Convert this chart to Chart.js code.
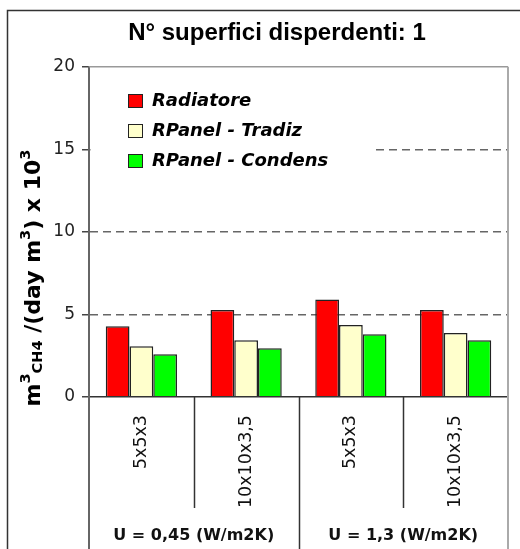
<!DOCTYPE html>
<html><head><meta charset="utf-8">
<script src="https://cdn.jsdelivr.net/npm/chart.js@4.4.0/dist/chart.umd.min.js"></script>
<style>html,body{margin:0;padding:0;background:#fff;} #wrap{width:520px;height:549px;position:relative;}</style>
</head><body><div id="wrap"><canvas id="c"></canvas></div>
<script>
const titleText = 'N° superfici disperdenti: 1';
const categories = ['5x5x3', '10x10x3,5', '5x5x3', '10x10x3,5'];
const groupLabels = ['U = 0,45 (W/m2K)', 'U = 1,3 (W/m2K)'];
const seriesNames = ['Radiatore', 'RPanel - Tradiz', 'RPanel - Condens'];
const radiatore = [4.28, 5.27, 5.90, 5.27];
const rpanelTradiz = [3.07, 3.43, 4.36, 3.88];
const rpanelCondens = [2.59, 2.95, 3.80, 3.43];
const yTicks = [0, 5, 10, 15, 20];
const yTitleParts = [['m', 'main'], ['3', 'sup'], ['CH4', 'sub'], [' /(day m', 'main'], ['3', 'sup'], [') x 10', 'main'], ['3', 'sup']];
const seriesColors = ['#ff0000', '#ffffcc', '#00ff00'];

const deco = {
  id: 'deco',
  afterDraw(chart) {
    const {ctx, chartArea: a, scales: {x}} = chart;
    const H = chart.height, W = chart.width;
    ctx.save();
    // outer frame
    ctx.strokeStyle = '#333'; ctx.lineWidth = 1.5;
    ctx.beginPath(); ctx.moveTo(7.5, H); ctx.lineTo(7.5, 10.5); ctx.lineTo(W, 10.5); ctx.stroke();
    // plot top & right border
    ctx.strokeStyle = '#999'; ctx.lineWidth = 1.5;
    ctx.beginPath(); ctx.moveTo(a.left, a.top); ctx.lineTo(a.right, a.top); ctx.stroke();
    ctx.strokeStyle = '#aaa'; ctx.lineWidth = 2;
    ctx.beginPath(); ctx.moveTo(a.right, a.top); ctx.lineTo(a.right, H); ctx.stroke();
    // left line extension below axis
    ctx.strokeStyle = '#666'; ctx.lineWidth = 2;
    ctx.beginPath(); ctx.moveTo(a.left, a.bottom); ctx.lineTo(a.left, H); ctx.stroke();
    // category separators
    ctx.strokeStyle = '#333'; ctx.lineWidth = 1.5;
    for (let i = 1; i < categories.length; i++) {
      const px = Math.round(x.getPixelForValue(i - 0.5)) + 0.5;
      const isGroup = i % 2 === 0;
      ctx.beginPath(); ctx.moveTo(px, a.bottom); ctx.lineTo(px, isGroup ? H : a.bottom + 111); ctx.stroke();
    }
    // group labels
    ctx.fillStyle = '#111'; ctx.font = 'bold 16px "DejaVu Sans"';
    ctx.textAlign = 'center'; ctx.textBaseline = 'middle';
    groupLabels.forEach((g, k) => {
      const cx = x.getPixelForValue(2 * k + 0.5);
      ctx.fillText(g, cx, 536);
    });
    // y axis title
    const fMain = 'bold 22px "DejaVu Sans"', fSmall = 'bold 14.5px "DejaVu Sans"';
    let total = 0;
    const widths = yTitleParts.map(([t, k]) => { ctx.font = k === 'main' ? fMain : fSmall; const w = ctx.measureText(t).width; total += w; return w; });
    ctx.translate(40, 278); ctx.rotate(-Math.PI / 2);
    ctx.textAlign = 'left'; ctx.textBaseline = 'alphabetic'; ctx.fillStyle = '#000';
    let xx = -total / 2;
    yTitleParts.forEach(([t, k], i) => {
      ctx.font = k === 'main' ? fMain : fSmall;
      const off = k === 'sup' ? -10 : (k === 'sub' ? 2 : 0);
      ctx.fillText(t, xx, off);
      xx += widths[i];
    });
    ctx.setTransform(1, 0, 0, 1, 0, 0);
    // legend
    ctx.fillStyle = '#fff';
    ctx.fillRect(a.left + 1.5, 80, 372 - a.left - 1.5, 96);
    ctx.font = 'italic bold 18px "DejaVu Sans"';
    ctx.textAlign = 'left'; ctx.textBaseline = 'middle';
    chart.data.datasets.forEach((ds, i) => {
      const cy = 101 + i * 30;
      ctx.fillStyle = ds.backgroundColor;
      ctx.fillRect(128.5, cy - 6.5, 14, 13);
      ctx.strokeStyle = '#222'; ctx.lineWidth = 1;
      ctx.strokeRect(128.5, cy - 6.5, 14, 13);
      ctx.fillStyle = '#000';
      ctx.fillText(ds.label, 152, cy);
    });
    ctx.restore();
  }
};

const datasets = [radiatore, rpanelTradiz, rpanelCondens].map((d, i) => ({
  label: seriesNames[i], data: d, backgroundColor: seriesColors[i],
  borderColor: '#222', borderWidth: 1.5,
  barPercentage: 1.0, categoryPercentage: 0.68
}));

new Chart(document.getElementById('c'), {
  type: 'bar',
  data: { labels: categories, datasets },
  options: {
    responsive: true, maintainAspectRatio: false, animation: false,
    layout: { padding: { left: 46, right: 12, top: 0, bottom: 0 } },
    plugins: {
      legend: { display: false },
      tooltip: { enabled: false },
      title: { display: true, text: titleText, color: '#000',
        font: { family: 'Liberation Sans', size: 24, weight: 'bold' },
        padding: { top: 19, bottom: 19 } }
    },
    scales: {
      x: {
        type: 'category', offset: true,
        grid: { display: true, drawOnChartArea: false, drawTicks: false, color: 'rgba(0,0,0,0)' },
        border: { display: true, color: '#333', width: 1.5, z: 1 },
        ticks: { minRotation: 90, maxRotation: 90, padding: 18, color: '#111',
          font: { family: 'DejaVu Sans', size: 17.5 }, autoSkip: false },
        afterFit: s => { s.height = 152; }
      },
      y: {
        min: 0, max: 20,
        afterBuildTicks: s => { s.ticks = yTicks.map(v => ({ value: v })); },
        grid: {
          color: c => (c.tick && c.tick.value > 0 && c.tick.value < 20) ? '#666' : 'rgba(0,0,0,0)',
          lineWidth: 1.5, tickColor: '#444', tickWidth: 1.5, tickLength: 7
        },
        border: { display: true, color: '#666', width: 2, dash: [8, 5], z: 1 },
        ticks: { padding: 7, color: '#222', font: { family: 'DejaVu Sans', size: 17 } },
        afterFit: s => { s.height = s.height; s.width = 43; }
      }
    }
  },
  plugins: [deco]
});
</script></body></html>
